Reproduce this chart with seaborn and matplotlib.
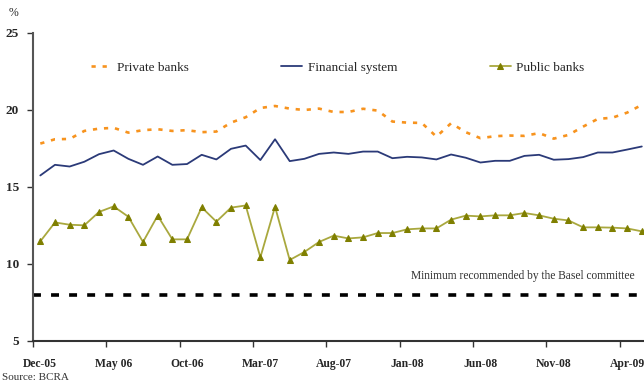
import numpy as np
import pandas as pd
import seaborn as sns
import matplotlib.pyplot as plt

# Capital ratios, monthly Dec-05 .. May-09 (%)
months = pd.date_range("2005-12-01", periods=42, freq="MS")
tick_labels = ["Dec-05", "May 06", "Oct-06", "Mar-07", "Aug-07",
               "Jan-08", "Jun-08", "Nov-08", "Apr-09"]

private_banks = [17.82, 18.10, 18.12, 18.64, 18.79, 18.84, 18.53, 18.69, 18.75, 18.64,
                 18.69, 18.56, 18.60, 19.18, 19.53, 20.13, 20.26, 20.09, 20.00, 20.09,
                 19.87, 19.87, 20.08, 19.96, 19.25, 19.18, 19.16, 18.27, 19.14, 18.56,
                 18.17, 18.30, 18.34, 18.32, 18.50, 18.14, 18.38, 18.92, 19.42, 19.50,
                 19.83, 20.33]
financial_system = [15.75, 16.44, 16.33, 16.64, 17.13, 17.37, 16.83, 16.44, 16.98, 16.44,
                    16.49, 17.09, 16.79, 17.48, 17.69, 16.75, 18.10, 16.68, 16.83, 17.15,
                    17.24, 17.15, 17.30, 17.30, 16.87, 16.96, 16.92, 16.79, 17.11, 16.90,
                    16.59, 16.70, 16.70, 17.02, 17.09, 16.77, 16.81, 16.94, 17.24, 17.24,
                    17.43, 17.63]
public_banks = [11.47, 12.70, 12.55, 12.51, 13.38, 13.74, 13.07, 11.43, 13.14, 11.60,
                11.60, 13.68, 12.75, 13.66, 13.80, 10.43, 13.72, 10.26, 10.78, 11.43,
                11.84, 11.66, 11.73, 12.01, 12.01, 12.25, 12.31, 12.31, 12.88, 13.14,
                13.09, 13.16, 13.16, 13.31, 13.16, 12.94, 12.83, 12.38, 12.38, 12.36,
                12.31, 12.12]
basel_min = 8

df = pd.DataFrame({"i": np.arange(len(months)), "month": months,
                   "Private banks": private_banks,
                   "Financial system": financial_system,
                   "Public banks": public_banks})

sns.set_style("white")
plt.rcParams["font.family"] = ["Liberation Serif", "DejaVu Serif"]

fig = plt.figure(figsize=(6.44, 3.85), dpi=100)
ax = fig.add_axes([0.0512, 0.1143, 0.9488, 0.80])

sns.lineplot(data=df, x="i", y="Private banks", ax=ax, color="#F7931E",
             linestyle=(0, (1.6, 2.6)), linewidth=1.9, label="Private banks")
sns.lineplot(data=df, x="i", y="Financial system", ax=ax, color="#2B3A78",
             linewidth=1.3, label="Financial system")
sns.lineplot(data=df, x="i", y="Public banks", ax=ax, color="#A9A83E",
             linewidth=1.3, marker="^", markersize=5, markerfacecolor="#7F7F00",
             markeredgecolor="#7F7F00", label="Public banks")
# Basel line, drawn across the whole axis
ax.plot([-0.5, 41.2], [basel_min, basel_min], color="black", linewidth=2.6,
        linestyle=(0, (2.2, 2.8)))

ax.set_xlim(-0.5, 41.15)
ax.set_ylim(5, 25)
ax.set_yticks([5, 10, 15, 20, 25])
ax.set_xticks(np.arange(0, 41, 5))
ax.set_xticklabels(tick_labels)
ax.set_xticks(np.arange(-0.5, 41, 5), minor=True)
ax.tick_params(axis="x", which="major", length=0, pad=12, labelsize=8.4)
ax.tick_params(axis="x", which="minor", length=4, width=1, direction="out",
               bottom=True, color="#333333")
ax.tick_params(axis="y", length=4, width=1, direction="out", left=True,
               labelsize=9.5, pad=6, color="#333333")
for lab in ax.get_xticklabels() + ax.get_yticklabels():
    lab.set_fontweight("bold")
ax.set_xlabel("")
ax.set_ylabel("")
for s in ["top", "right"]:
    ax.spines[s].set_visible(False)
ax.spines["left"].set_color("#555555")
ax.spines["left"].set_linewidth(1.5)
ax.spines["bottom"].set_color("#333333")
ax.spines["bottom"].set_linewidth(1.5)

ax.legend(loc="upper left", bbox_to_anchor=(0.075, 0.945), ncol=3, frameon=False,
          fontsize=9.5, handlelength=1.6, handletextpad=0.4, columnspacing=7.0)

ax.text(40.5, 9.25, "Minimum recommended by the Basel committee", ha="right",
        va="center", fontsize=8.3, color="#333333")
fig.text(0.014, 0.967, "%", fontsize=8.5, ha="left", va="center")
fig.text(0.003, 0.02, "Source: BCRA", fontsize=8, ha="left", va="center",
         color="#333333")

fig.savefig("out.png", dpi=100)
